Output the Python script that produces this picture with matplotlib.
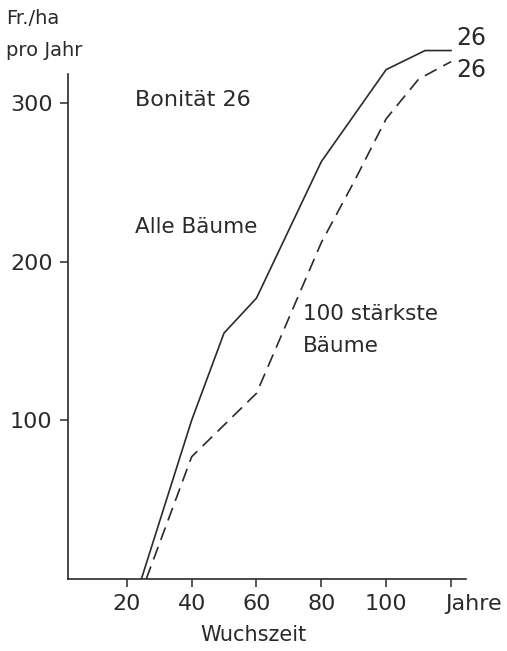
import matplotlib
matplotlib.use('Agg')
import matplotlib.pyplot as plt
from matplotlib.transforms import ScaledTranslation

# Wuchszeit (Jahre) und Fr./ha pro Jahr
alle_x = [24.5, 40, 50, 60, 80, 100, 112, 120]
alle_y = [0, 100, 155, 177, 263, 321, 333, 333]

staerkste_x = [26, 40, 60, 80, 90, 100, 110, 120]
staerkste_y = [0, 77, 117, 212, 250, 290, 315, 326]

x_ticks = [20, 40, 60, 80, 100, 120]
x_ticklabels = ['20', '40', '60', '80', '100', 'Jahre']
y_ticks = [100, 200, 300]

ink = '#2a2a2a'
plt.rcParams['font.family'] = ['DejaVu Sans']

fig = plt.figure(figsize=(5.07, 6.51), dpi=100)
ax = fig.add_axes([0.134, 0.1106, 0.785, 0.841])

ax.plot(alle_x, alle_y, color=ink, lw=1.2, solid_joinstyle='miter')
ax.plot(staerkste_x, staerkste_y, color=ink, lw=1.2, dashes=(8, 4.5))

ax.set_xlim(1.85, 124.6)
ax.set_ylim(0, 345)

for side in ['top', 'right']:
    ax.spines[side].set_visible(False)
ax.spines['left'].set_bounds(0, 318)
for side in ['left', 'bottom']:
    ax.spines[side].set_color(ink)
    ax.spines[side].set_linewidth(1.2)

ax.set_xticks(x_ticks)
ax.set_xticklabels(x_ticklabels)
ax.set_yticks(y_ticks)
ax.tick_params(direction='out', length=6, width=1.1, color=ink,
               labelsize=16, labelcolor=ink, pad=5)

# "Jahre" beginnt knapp links vom letzten Strich
jahre = ax.get_xticklabels()[-1]
jahre.set_horizontalalignment('left')
jahre.set_transform(jahre.get_transform() + ScaledTranslation(-6 / 100, 0, fig.dpi_scale_trans))

# Beschriftungen im Diagramm
ax.text(22.5, 302, 'Bonität 26', fontsize=16, color=ink, va='center')
ax.text(22.5, 222, 'Alle Bäume', fontsize=15.5, color=ink, va='center')
ax.text(74.3, 167, '100 stärkste', fontsize=15.5, color=ink, va='center')
ax.text(74.3, 147, 'Bäume', fontsize=15.5, color=ink, va='center')
ax.text(121.5, 341, '26', fontsize=17, color=ink, va='center', clip_on=False)
ax.text(121.5, 321, '26', fontsize=17, color=ink, va='center', clip_on=False)

fig.text(6 / 507, 1 - 18 / 651, 'Fr./ha', fontsize=14, color=ink, va='center')
fig.text(6 / 507, 1 - 50 / 651, 'pro Jahr', fontsize=14, color=ink, va='center')
fig.text(253 / 507, 1 - 635 / 651, 'Wuchszeit', fontsize=15, color=ink,
         ha='center', va='center')

fig.savefig('out.png', dpi=100)
